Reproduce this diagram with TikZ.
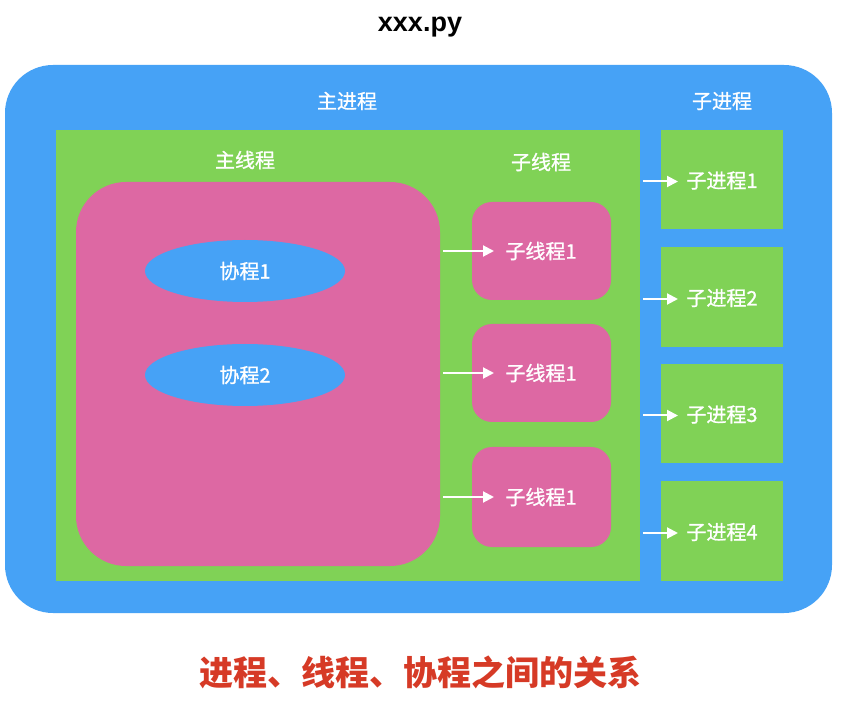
\documentclass[tikz,border=0pt]{standalone}
\usepackage{fontspec}
\setmainfont{Liberation Sans}
\newfontfamily\cjk[FakeBold=1.0]{Noto Sans CJK SC}
\newfontfamily\cjkr{Noto Sans CJK SC}
\usetikzlibrary{arrows.meta,shapes.geometric}
\definecolor{bblue}{RGB}{70,162,246}
\definecolor{ggreen}{RGB}{128,210,86}
\definecolor{ppink}{RGB}{221,104,163}
\definecolor{rred}{RGB}{214,58,38}
\tikzset{
  lbl/.style={text=white,font=\cjk\fontsize{20}{24}\selectfont,inner sep=0pt},
  greenbox/.style={fill=ggreen,draw=none},
  pinkbox/.style={fill=ppink,draw=none,rounded corners=20pt},
  coro/.style={ellipse,fill=bblue,draw=none,minimum width=200pt,minimum height=62pt,inner sep=0pt,text=white,font=\cjk\fontsize{20}{24}\selectfont},
  arr/.style={draw=white,line width=2pt,-{Triangle[length=11pt,width=11pt]}}
}
\begin{document}
\begin{tikzpicture}[x=1pt,y=-1pt]
\useasboundingbox (0,0) rectangle (849,708);
\fill[white] (0,0) rectangle (849,708);
\node[font=\bfseries\fontsize{27}{30}\selectfont,inner sep=0pt] (title) at (420,27) {xxx.py};
% outer blue
\fill[bblue,rounded corners=48pt] (5,65) rectangle (832,613);
\node[lbl] (mainproc) at (347,101) {主进程};
\node[lbl] (subproc) at (722,101) {子进程};
% main green
\path[greenbox] (56,130) rectangle (640,581);
\node[lbl] (mainthread) at (245,160) {主线程};
\node[lbl] (subthread) at (541,162) {子线程};
% big pink
\path[fill=ppink,rounded corners=50pt] (76,182) rectangle (440,566);
\node[coro] (c1) at (245,271) {协程1};
\node[coro] (c2) at (245,375) {协程2};
% sub-thread boxes
\foreach \i/\ya/\yb in {1/202/300,2/324/422,3/447/547}{
  \path[pinkbox] (472,\ya) rectangle (611,\yb);
  \node[lbl] (t\i) at (541,{(\ya+\yb)/2}) {子线程1};
  \coordinate (ts\i) at (443,{(\ya+\yb)/2});
  \coordinate (te\i) at (494,{(\ya+\yb)/2});
  \draw[arr] (ts\i) -- (te\i);
}
% sub-process boxes
\foreach \i/\ya/\yb in {1/130/229,2/247/347,3/364/463,4/481/581}{
  \path[greenbox] (661,\ya) rectangle (783,\yb);
  \coordinate (ps\i) at (643,{(\ya+\yb)/2+2});
  \coordinate (pe\i) at (678,{(\ya+\yb)/2+2});
  \node[lbl] (p\i) at (722,{(\ya+\yb)/2+1}) {子进程\i};
  \draw[arr] (ps\i) -- (pe\i);
}
\node[text=rred,font=\cjkr\bfseries\fontsize{34}{40}\selectfont,inner sep=0pt] (caption) at (420,672) {进程、线程、协程之间的关系};
\end{tikzpicture}
\end{document}
